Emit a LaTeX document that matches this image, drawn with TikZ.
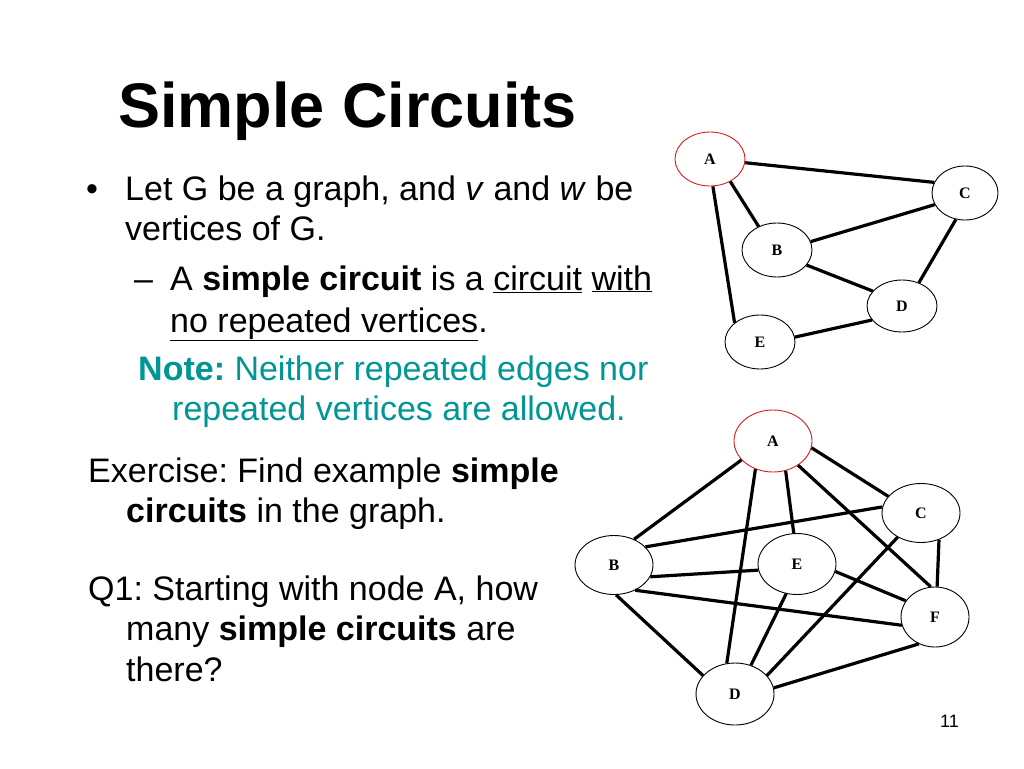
\documentclass[tikz,border=0pt]{standalone}
\usepackage{fontspec}
\setmainfont{Liberation Sans}
\newfontfamily\serifnode{Liberation Serif}
\usetikzlibrary{shapes.geometric}
\definecolor{noteteal}{RGB}{0,150,150}
\definecolor{nodered}{RGB}{215,30,30}
\frenchspacing
\begin{document}
\begin{tikzpicture}[x=1pt,y=-1pt,
  txt/.style={anchor=base west, inner sep=0pt, font=\frenchspacing\fontsize{34}{40}\selectfont},
  vtx/.style={ellipse, draw=black, line width=0.9pt, inner sep=0pt, font=\serifnode\bfseries\fontsize{16}{18}\selectfont},
  small/.style={vtx, minimum width=70pt, minimum height=54pt},
  big/.style={vtx, minimum width=78pt, minimum height=61pt},
  start/.style={draw=nodered},
  edge/.style={line width=3.2pt}]
\useasboundingbox (0,0) rectangle (1024,768);
\fill[white] (0,0) rectangle (1024,768);
% title
\node[anchor=base west, inner sep=0pt, font=\bfseries\fontsize{63}{70}\selectfont] (title) at (118,127) {Simple Circuits};
% bullet text
\node[txt] (b1) at (86,200) {\textbullet};
\node[txt] (l1) at (125,200) {Let G be a graph, and \textit{v} and \textit{w} be};
\node[txt] (l2) at (125,240) {vertices of G.};
\node[txt] (d1) at (134,290) {--};
\node[txt] (l3) at (170,290) {A \textbf{simple circuit} is a \underline{circuit} \underline{with}};
\node[txt] (l4) at (170,332) {\underline{no repeated vertices}.};
\node[txt, text=noteteal] (l5) at (138,380) {\textbf{Note:} Neither repeated edges nor};
\node[txt, text=noteteal] (l6) at (172,420) {repeated vertices are allowed.};
\node[txt] (l7) at (88,482) {Exercise: Find example \textbf{simple}};
\node[txt] (l8) at (126,522) {\textbf{circuits} in the graph.};
\node[txt] (l9) at (88,600) {Q1: Starting with node A, how};
\node[txt] (l10) at (126,640) {many \textbf{simple circuits} are};
\node[txt] (l11) at (126,681) {there?};
\node[anchor=base west, inner sep=0pt, font=\fontsize{18}{20}\selectfont] (pg) at (940,727) {11};
% graph 1
\node[small, start] (A1) at (710,159) {A};
\node[small, minimum width=66pt] (C1) at (965,193) {C};
\node[small] (B1) at (777,250) {B};
\node[small, minimum height=52pt] (D1) at (902,306) {D};
\node[small] (E1) at (760,342) {E};
\draw[edge] (A1.354) -- (C1.161);
\draw[edge] (A1.312) -- (B1.128);
\draw[edge] (A1.276) -- (E1.143);
\draw[edge] (B1.14) -- (C1.201);
\draw[edge] (B1.333) -- (D1.153);
\draw[edge] (C1.251) -- (D1.54);
\draw[edge] (D1.205) -- (E1.8);
% graph 2
\node[big, start, minimum height=62pt] (A2) at (773,441) {A};
\node[big, minimum height=59pt] (C2) at (921,513) {C};
\node[big, minimum height=59pt] (B2) at (614,565) {B};
\node[big] (E2) at (797,564) {E};
\node[big, minimum width=68pt, minimum height=60pt] (F2) at (935,617) {F};
\node[big, minimum height=62pt] (D2) at (735,694) {D};
\draw[edge] (A2.211) -- (B2.52);
\draw[edge] (A2.238) -- (D2.105);
\draw[edge] (A2.293) -- (E2.96);
\draw[edge] (A2.316) -- (F2.98);
\draw[edge] (A2.350) -- (C2.153);
\draw[edge] (B2.30) -- (C2.171);
\draw[edge] (B2.342) -- (E2.189);
\draw[edge] (B2.310) -- (F2.194);
\draw[edge] (B2.274) -- (D2.150);
\draw[edge] (E2.250) -- (D2.61);
\draw[edge] (E2.349) -- (F2.151);
\draw[edge] (C2.226) -- (D2.30);
\draw[edge] (C2.304) -- (F2.86);
\draw[edge] (F2.239) -- (D2.9);
\end{tikzpicture}
\end{document}
